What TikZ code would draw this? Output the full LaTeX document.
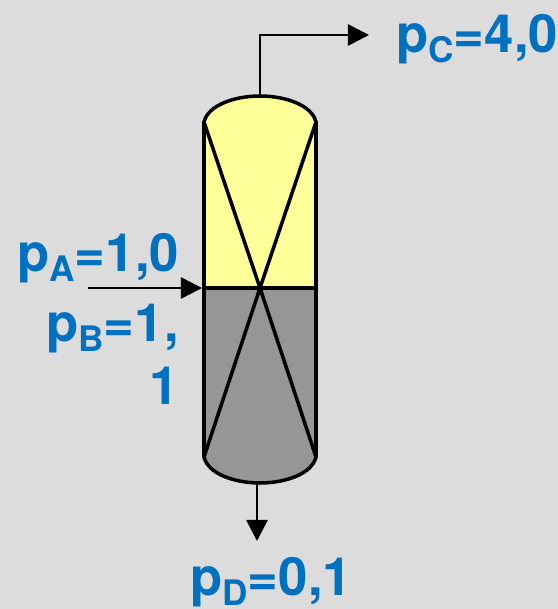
\documentclass[tikz,border=0pt]{standalone}
\usepackage{fontspec}
\setmainfont{TeX Gyre Heros}
\usetikzlibrary{arrows.meta}
\definecolor{bgGray}{HTML}{DCDCDC}
\definecolor{topYellow}{HTML}{FFFF99}
\definecolor{botGray}{HTML}{969696}
\definecolor{labelBlue}{HTML}{0070C0}
\newcommand{\psub}[1]{p\raisebox{-0.2em}{\fontsize{20}{24}\selectfont #1}}
\tikzset{
    wall/.style={draw=black,line width=2pt},
    pipe/.style={draw=black,line width=1.5pt,line join=miter,-{Triangle[length=12pt,width=12pt]}},
    pressure/.style={text=labelBlue,font=\fontsize{30}{36}\selectfont\bfseries,inner sep=0pt,anchor=base west},
}

\begin{document}
\begin{tikzpicture}[x=0.02cm,y=-0.02cm]

    \fill[bgGray] (0,0) rectangle (558,609);
    \useasboundingbox (0,0) rectangle (558,609);

    \coordinate (tl) at (204,122);
    \coordinate (tr) at (316,122);
    \coordinate (bl) at (204,457);
    \coordinate (br) at (316,457);
    \coordinate (ml) at (204,288);
    \coordinate (mr) at (316,288);
    \coordinate (mid) at (260,288);
    \coordinate (top) at (260,96);
    \coordinate (bot) at (257,481);

    \coordinate (corner) at (260,35);
    \coordinate (outC) at (369,35);
    \coordinate (inF) at (88,288);
    \coordinate (feedEnd) at (202,288);
    \coordinate (outD) at (257,541);

    \fill[topYellow] (ml) -- (tl) .. controls (208,105) and (235,96) .. (top) .. controls (285,96) and (312,105) .. (tr) -- (mr) -- cycle;
    \fill[botGray] (ml) -- (bl) .. controls (208,474) and (235,483) .. (260,483) .. controls (285,483) and (312,474) .. (br) -- (mr) -- cycle;

    \draw[wall] (bl) -- (tl) .. controls (208,105) and (235,96) .. (top) .. controls (285,96) and (312,105) .. (tr) -- (br) .. controls (312,474) and (285,483) .. (260,483) .. controls (235,483) and (208,474) .. (bl);
    \draw[wall] (ml) -- (mr);
    \draw[wall] (tl) -- (mid) -- (br);
    \draw[wall] (tr) -- (mid) -- (bl);

    \draw[pipe] (top) -- (corner) -- (outC);
    \draw[pipe] (inF) -- (feedEnd);
    \draw[pipe] (bot) -- (outD);

    \node[pressure] (pC) at (396,52) {\psub{C}=4,0};
    \node[pressure] (pA) at (17,271) {\psub{A}=1,0};
    \node[pressure] (pB) at (46,341) {\psub{B}=1,};
    \node[pressure] (pBb) at (149,404) {1};
    \node[pressure] (pD) at (190,595) {\psub{D}=0,1};

\end{tikzpicture}
\end{document}
